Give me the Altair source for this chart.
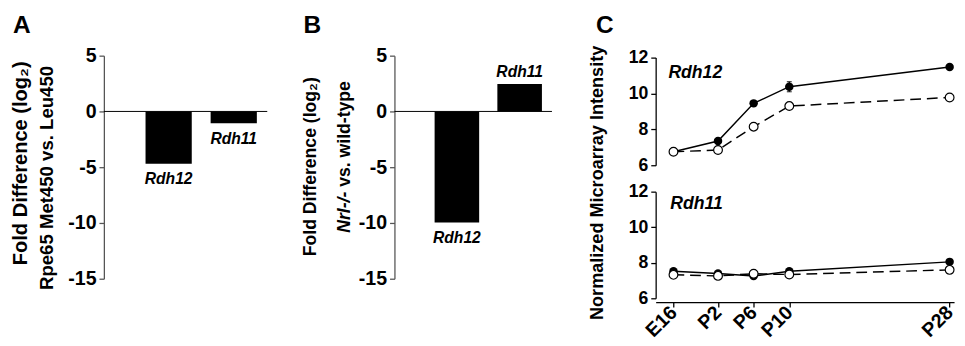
import altair as alt
import pandas as pd

FONT = "Liberation Sans"

# ---------------- data ----------------
genes = ["Rdh12", "Rdh11"]
fold_a = [-4.7, -1.05]
fold_b = [-9.95, 2.45]
fold_ticks = [-15, -10, -5, 0, 5]

panel_letters = ["A", "B", "C"]
title_a1 = "Fold Difference (log₂)"
title_a2 = "Rpe65 Met450 vs. Leu450"
title_b1 = "Fold Difference (log₂)"
title_b2_italic = "Nrl-/-"
title_b2_rest = "vs. wild-type"
title_c = "Normalized Microarray Intensity"

days = [-3, 2, 6, 10, 28]
day_labels = ["E16", "P2", "P6", "P10", "P28"]
intensity_ticks = [6, 8, 10, 12]
c_genes = ["Rdh12", "Rdh11"]
genotypes = ["wild-type", "Nrl-/-"]

rdh12_filled = [6.75, 7.35, 9.45, 10.38, 11.48]
rdh12_filled_err = [0.05, 0.08, 0.12, 0.28, 0.08]
rdh12_open = [6.75, 6.85, 8.15, 9.30, 9.78]
rdh12_open_err = [0.05, 0.05, 0.08, 0.08, 0.1]
rdh11_filled = [7.52, 7.40, 7.25, 7.52, 8.05]
rdh11_filled_err = [0.05, 0.05, 0.05, 0.05, 0.05]
rdh11_open = [7.32, 7.26, 7.38, 7.34, 7.60]
rdh11_open_err = [0.05, 0.05, 0.05, 0.05, 0.05]

# ---------------- helpers ----------------
fold_axis = alt.Axis(
    values=fold_ticks, title=None,
    labelFontSize=20, labelFontWeight="bold", labelColor="black",
    labelExpr="'' + datum.value", labelPadding=3,
    domainColor="#555555", tickColor="#555555", domainWidth=1.3, tickWidth=1.3,
    tickSize=5, grid=False,
)


def text_layer(txt, x, y, size, angle=0, align="center", baseline="middle", italic=False):
    kw = dict(align=align, baseline=baseline, fontSize=size, fontWeight="bold", color="black")
    if angle:
        kw["angle"] = angle
    if italic:
        kw["fontStyle"] = "italic"
    return alt.Chart(pd.DataFrame({"t": [txt]})).mark_text(**kw).encode(
        text="t:N", x=alt.value(x), y=alt.value(y))


def letter_layer(letter, x):
    return text_layer(letter, x, -23, 25, align="left", baseline="alphabetic")


def bar_panel(values, letter, width, extra):
    df = pd.DataFrame({"gene": genes, "value": values})
    xenc = alt.X("gene:N", sort=genes, axis=None,
                 scale=alt.Scale(paddingInner=0.29, paddingOuter=0.4, align=0.8))
    ysc = alt.Scale(domain=[-15, 5], nice=False)
    y = alt.Y("value:Q", scale=ysc, axis=fold_axis)
    base = alt.Chart(df)
    bars = base.mark_bar(color="black").encode(x=xenc, y=y)
    zero = alt.Chart(pd.DataFrame({"z": [0]})).mark_rule(color="black", strokeWidth=1).encode(
        y=alt.Y("z:Q", scale=ysc, axis=fold_axis))
    lab_neg = base.transform_filter("datum.value < 0").mark_text(
        dy=16, fontSize=16, fontWeight="bold", fontStyle="italic", color="black", baseline="middle"
    ).encode(x=xenc, y=y, text="gene:N")
    lab_pos = base.transform_filter("datum.value >= 0").mark_text(
        dy=-12, fontSize=16, fontWeight="bold", fontStyle="italic", color="black", baseline="middle"
    ).encode(x=xenc, y=y, text="gene:N")
    layers = [bars, zero, lab_neg, lab_pos, letter_layer(letter, -93)] + extra
    return alt.layer(*layers).properties(width=width, height=228)


panel_a = bar_panel(fold_a, panel_letters[0], 167, [
    text_layer(title_a1, -85, 110, 20.5, angle=270),
    text_layer(title_a2, -58, 125, 19, angle=270),
])

panel_b = bar_panel(fold_b, panel_letters[1], 161, [
    text_layer(title_b1, -85, 113.5, 18, angle=270),
    text_layer(title_b2_italic, -50, 181, 18, angle=270, align="left", italic=True),
    text_layer(title_b2_rest, -50, 134, 18, angle=270, align="left"),
])

# ---------------- panel C ----------------
rows = []
series = {
    ("Rdh12", "wild-type"): (rdh12_filled, rdh12_filled_err),
    ("Rdh12", "Nrl-/-"): (rdh12_open, rdh12_open_err),
    ("Rdh11", "wild-type"): (rdh11_filled, rdh11_filled_err),
    ("Rdh11", "Nrl-/-"): (rdh11_open, rdh11_open_err),
}
for (g, geno), (vals, errs) in series.items():
    for d, v, e in zip(days, vals, errs):
        rows.append({"gene": g, "geno": geno, "day": d, "value": v,
                     "lo": v - e, "hi": v + e})
c_df = pd.DataFrame(rows)

label_expr = " : ".join(f"datum.value == {d} ? '{l}'" for d, l in zip(days, day_labels)) + " : ''"
xenc = alt.X("day:Q", scale=alt.Scale(domain=[-5, 28.5], nice=False, zero=False),
             axis=alt.Axis(values=days, labelExpr=label_expr, labelAngle=315,
                           labelAlign="right", labelBaseline="middle", offset=4,
                           labelOverlap=False, labelBound=False,
                           tickSize=5, title=None, domainColor="black", tickColor="black",
                           domainWidth=1.3, tickWidth=1.3, labelColor="black",
                           labelFontSize=20, labelFontWeight="bold", labelPadding=2, grid=False))

c_axis = alt.Axis(values=intensity_ticks, orient="left", labelFontSize=18, labelFontWeight="bold",
                  labelColor="black", labelPadding=3, tickSize=5, domainColor="black",
                  tickColor="black", domainWidth=1.3, tickWidth=1.3, grid=False, title=None)


def c_panel(gene, yrange):
    d = c_df[c_df.gene == gene]
    sc = alt.Scale(domain=[6, 12], range=yrange, nice=False, zero=False)
    y = alt.Y("value:Q", scale=sc, axis=c_axis)
    base = alt.Chart(d)
    filled = base.transform_filter("datum.geno == 'wild-type'")
    opened = base.transform_filter("datum.geno == 'Nrl-/-'")
    line_f = filled.mark_line(color="black", strokeWidth=1.5).encode(x=xenc, y=y)
    err_f = filled.mark_errorbar(ticks=True, color="black", thickness=1.3).encode(
        x=xenc, y=alt.Y("lo:Q", scale=sc, axis=c_axis), y2="hi:Q")
    pts_f = filled.mark_point(filled=True, color="black", size=75, opacity=1, shape="circle").encode(x=xenc, y=y)
    line_o = opened.mark_line(color="black", strokeWidth=1.5, strokeDash=[11, 6]).encode(x=xenc, y=y)
    pts_o = opened.mark_point(filled=True, fill="white", stroke="black", strokeWidth=1.2,
                              size=80, opacity=1, shape="circle").encode(x=xenc, y=y)
    return alt.layer(line_f, err_f, pts_f, line_o, pts_o)


panel_c = alt.layer(
    c_panel("Rdh12", [112, 2]),
    c_panel("Rdh11", [248, 139]),
    letter_layer(panel_letters[2], -61),
    text_layer(title_c, -60, 130, 18.5, angle=270),
    text_layer(c_genes[0], 13, 18, 18, align="left", italic=True),
    text_layer(c_genes[1], 15, 152, 18, align="left", italic=True),
).resolve_scale(y="independent").properties(width=305, height=248)

chart = alt.hconcat(panel_a, panel_b, panel_c, spacing=35).properties(
    padding={"left": 3, "top": 2, "right": 0, "bottom": 0}
).configure(font=FONT).configure_view(stroke=None)

chart.save("out.html", embed_options={"renderer": "svg", "actions": False})
